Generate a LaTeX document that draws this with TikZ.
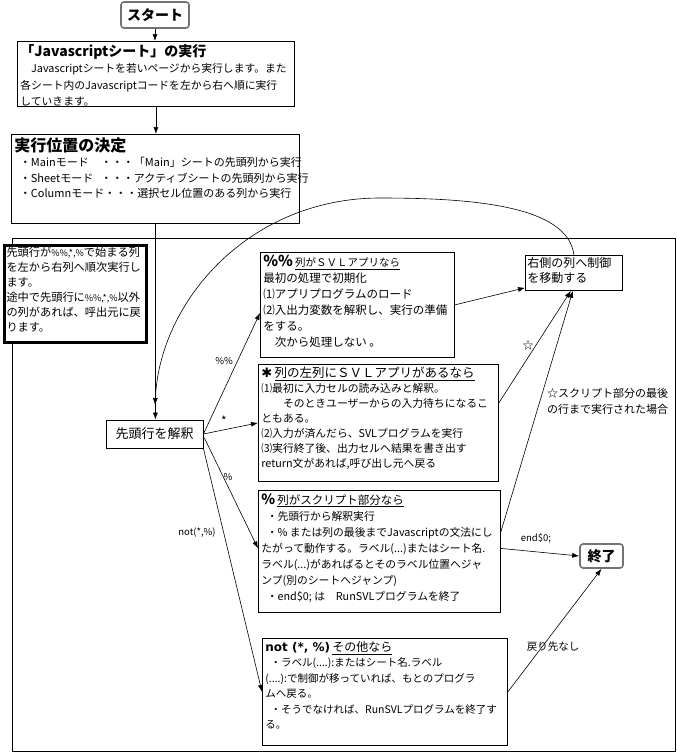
\documentclass[tikz,border=0pt]{standalone}
\usepackage{fontspec}
\setmainfont{Noto Sans CJK JP}
\newfontfamily\djv{DejaVu Sans}
\usetikzlibrary{arrows.meta,calc}
\newcommand\bxt[3]{\begin{minipage}[t][#2pt][t]{#1pt}#3\end{minipage}}
\newcommand\fs[2]{\fontsize{#1}{#2}\selectfont}
\tikzset{
  bx/.style={draw, fill=white, line width=0.8pt, anchor=north west, inner sep=3pt, align=left},
  conn/.style={line width=0.6pt, -{Latex[length=7pt,width=5pt]}},
  term/.style={draw=black!55, line width=1.6pt, rounded corners=3pt, inner sep=0pt, font=\bfseries\fs{14}{16}},
  lbl/.style={inner sep=1pt, font=\fs{9.5}{11}},
}
\begin{document}
\begin{tikzpicture}[x=1pt,y=-1pt]
\useasboundingbox (0,0) rectangle (677,753);
% container
\draw[line width=0.6pt] (12,238) rectangle (675,751);
% start
\node[term, minimum width=68pt, minimum height=26pt] (start) at (155,15) {スタート};
% box 1
\node[bx] (b1) at (17,41) {\bxt{271}{59}{%
{\bfseries\fs{14}{16}「Javascriptシート」の実行\par}
{\fs{10.8}{16.5}\hspace*{1em}Javascriptシートを若いページから実行します。また\\
各シート内のJavascriptコードを左から右へ順に実行\\
していきます。\par}}};
% box 2
\node[bx] (b2) at (11,134) {\bxt{282}{83}{%
{\bfseries\fs{16}{18}実行位置の決定\par}
{\fs{11}{15.5}\hspace*{0.5em}\makebox[81pt][l]{・Mainモード}・・・「Main」シートの先頭列から実行\\
\hspace*{0.5em}\makebox[81pt][l]{・Sheetモード}・・・アクティブシートの先頭列から実行\\
\hspace*{0.5em}・Columnモード・・・選択セル位置のある列から実行\par}}};
% left note
\node[bx, line width=3pt, inner sep=2pt] (note) at (3,244) {\bxt{138}{93}{%
{\fs{11.2}{15}先頭行が{\fs{9}{10}\%\%,*,\%}で始まる列\\
を左から右列へ順次実行し\\
ます。\\
途中で先頭行に{\fs{9}{10}\%\%,*,\%}以外\\
の列があれば、呼出元に戻\\
ります。\par}}};
% parse
\node[draw, line width=0.8pt, minimum width=97pt, minimum height=28pt, font=\fs{13}{15}] (parse) at (154.5,434) {先頭行を解釈};
% %% box
\node[bx] (pp) at (260,252) {\bxt{188}{99}{%
{{\bfseries\fs{15}{17}\%\%}\ \underline{\fs{10.5}{12}列がＳＶＬアプリなら}\par}
{\fs{11.5}{16}最初の処理で初期化\\
⑴アプリプログラムのロード\\
⑵入出力変数を解釈し、実行の準備\\
をする。\\
\hspace*{1em}次から処理しない 。\par}}};
% right box
\node[bx, inner sep=2pt] (right) at (525,255) {\bxt{93}{31}{%
{\fs{12}{15}右側の列へ制御\\を移動する\par}}};
% star box
\node[bx] (star) at (258,364) {\bxt{234}{111}{%
{{\djv\bfseries\fs{13}{15}✱}\ \underline{\fs{12.5}{15}列の左列にＳＶＬアプリがあるなら}\par}
{\fs{10.8}{15}⑴最初に入力セルの読み込みと解釈。\\
\hspace*{2em}そのときユーザーからの入力待ちになるこ\\
ともある。\\
⑵入力が済んだら、SVLプログラムを実行\\
⑶実行終了後、出力セルへ結果を書き出す\\
return文があれば,呼び出し元へ戻る\par}}};
% % box
\node[bx] (pct) at (258,490) {\bxt{236}{116}{%
{{\bfseries\fs{14}{16}\%}\ \underline{\fs{11.5}{14}列がスクリプト部分なら}\par}
{\fs{10.8}{16}\hspace*{.5em}・先頭行から解釈実行\\
\hspace*{.5em}・\% または列の最後までJavascriptの文法にし\\
たがって動作する。ラベル(...)またはシート名.\\
ラベル(...)があればるとそのラベル位置へジャ\\
ンプ(別のシートへジャンプ)\\
\hspace*{.5em}・end\$0; は\hspace{1em}RunSVLプログラムを終了\par}}};
% not box
\node[bx] (notb) at (262,638) {\bxt{239}{101}{%
{{\djv\bfseries\fs{12}{14}not (*, \%)}\ \underline{\fs{12}{14}その他なら}\par}
{\fs{10.5}{15.5}\hspace*{.5em}・ラベル(....):またはシート名.ラベル\\
(....):で制御が移っていれば、もとのプログラ\\
ムへ戻る。\\
\hspace*{.5em}・そうでなければ、RunSVLプログラムを終了す\\
る。\par}}};
% end
\node[term, minimum width=43pt, minimum height=24pt] (endn) at (601.5,556) {終了};
% connectors
\draw[conn] (start.south) -- (start.south |- b1.north);
\draw[conn] (b1.south) -- (b1.south |- b2.north);
\draw[conn] (b2.south) -- (b2.south |- parse.north);
\coordinate (loopend) at (155,405);
\draw[conn] (right.north) .. controls (568,205) and (470,198) .. (380,198)
  .. controls (250,198) and (160,300) .. (loopend);
\draw[conn] (parse.east) -- ($(pp.west)+(0,8)$);
\draw[conn] (parse.east) -- (star.west);
\draw[conn] ($(parse.east)+(1,4)$) -- ($(pct.west)+(0,-3)$);
\draw[conn] (parse.south east) -- (notb.west);
\draw[conn] (pp.east) -- ($(right.south west)+(0,-3)$);
\draw[conn] ($(star.north east)+(0,39)$) -- ($(right.south)+(-3,0)$);
\draw[conn] ($(pct.north east)+(0,42)$) -- ($(right.south)+(-1,0)$);
\draw[conn] ($(pct.east)+(0,-3)$) -- (endn.west);
\draw[conn] (notb.east) -- (endn.south);
% labels
\node[lbl] (lpp) at (224,361) {\%\%};
\node[lbl, font=\fs{12}{12}] (lst) at (224,421) {*};
\node[lbl] (lpc) at (228,477) {\%};
\node[lbl] (lnot) at (197,533) {not(*,\%)};
\node[lbl] (lend) at (536,538) {end\$0;};
\node[lbl, font=\fs{10.5}{12}] (lret) at (553,647) {戻り先なし};
\node[lbl, font=\fs{11}{12}] (lstar) at (528,345) {☆};
\node[lbl, anchor=west, align=left, font=\fs{11}{16}] (lnote) at (546,401) {☆スクリプト部分の最後\\の行まで実行された場合};
\end{tikzpicture}
\end{document}
